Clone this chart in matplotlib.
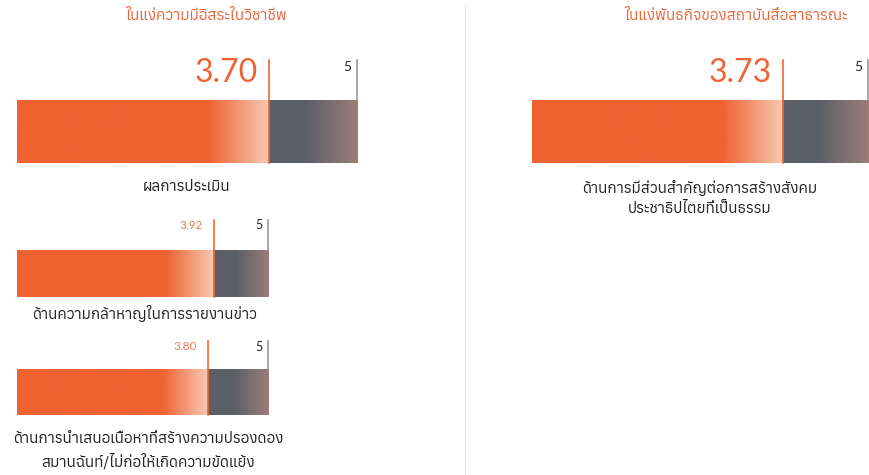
import numpy as np
import matplotlib
matplotlib.use("Agg")
import matplotlib.pyplot as plt
from matplotlib import font_manager, ft2font
from matplotlib.colors import LinearSegmentedColormap
from matplotlib.lines import Line2D

# data
titles = ["ในแง่ความมีอิสระในวิชาชีพ", "ในแง่พันธกิจของสถาบันสื่อสาธารณะ"]
left_labels = ["ผลการประเมิน",
               "ด้านความกล้าหาญในการรายงานข่าว",
               "ด้านการนำเสนอเนื้อหาที่สร้างความปรองดอง\nสมานฉันท์/ไม่ก่อให้เกิดความขัดแย้ง"]
left_scores = [3.70, 3.92, 3.80]
right_labels = ["ด้านการมีส่วนสำคัญต่อการสร้างสังคม\nประชาธิปไตยที่เป็นธรรม"]
right_scores = [3.73]
max_score = 5

ORANGE = "#ee6331"
PEACH = "#f8c8b2"
GRAY = "#5a5f67"
MAUVE = "#9b7c79"

# find a font that has thai glyphs
thai_fonts = []
for f in font_manager.fontManager.ttflist:
    try:
        if 0x0E01 in ft2font.FT2Font(f.fname).get_charmap():
            thai_fonts.append(f.name)
    except Exception:
        pass
fams = sorted(set(thai_fonts)) + ["DejaVu Sans"]
plt.rcParams['font.family'] = fams

orange_cmap = LinearSegmentedColormap.from_list("o", [(0, ORANGE), (0.76, ORANGE), (1, PEACH)])
gray_cmap = LinearSegmentedColormap.from_list("g", [(0, GRAY), (0.4, GRAY), (1, MAUVE)])
grad = np.linspace(0, 1, 256).reshape(1, -1)

fig = plt.figure(figsize=(8.7, 4.75), dpi=100)
W, H = 870, 475


def px_axes(x0, y0, x1, y1):
    return fig.add_axes([x0 / W, 1 - y1 / H, (x1 - x0) / W, (y1 - y0) / H])


def draw_bar(ax, score, big, line_top, val_y, five_y):
    ax.imshow(grad, cmap=orange_cmap, aspect="auto", extent=(0, score, 0, 1))
    ax.imshow(grad, cmap=gray_cmap, aspect="auto", extent=(score, max_score, 0, 1))
    ax.set_xlim(0, max_score)
    ax.set_ylim(0, 1)
    ax.axis("off")
    ax.plot([score, score], [0, line_top], color=ORANGE, lw=1.2, clip_on=False)
    ax.plot([max_score, max_score], [1, line_top], color="#999999", lw=1.2, clip_on=False)
    ax.annotate(f"{score:.2f}", xy=(score, val_y), xytext=(-8, 0), textcoords="offset points",
                ha="right", va="center", color=ORANGE if big else "#ef7a55",
                annotation_clip=False,
                fontsize=23 if big else 8.5, family=["Lato", "DejaVu Sans"])
    ax.annotate(str(max_score), xy=(max_score, five_y), xytext=(-4, 0), textcoords="offset points",
                ha="right", va="center", color="#222222", annotation_clip=False,
                fontsize=10 if big else 9, family=["Lato", "DejaVu Sans"])


# left panel
ax1 = px_axes(17, 100, 357, 163)
draw_bar(ax1, left_scores[0], True, 1.63, 1.43, 1.52)
ax2 = px_axes(17, 250, 268, 297)
draw_bar(ax2, left_scores[1], False, 1.64, 1.53, 1.53)
ax3 = px_axes(17, 369, 268, 415)
draw_bar(ax3, left_scores[2], False, 1.6, 1.48, 1.48)

# right panel
ax4 = px_axes(532, 100, 868, 163)
draw_bar(ax4, right_scores[0], True, 1.63, 1.43, 1.52)

fig.text(206 / W, 1 - 16 / H, titles[0], ha="center", va="center", color="#e8653c", fontsize=11)
fig.text(736 / W, 1 - 16 / H, titles[1], ha="center", va="center", color="#e8653c", fontsize=11)

fig.text(187 / W, 1 - 187 / H, left_labels[0], ha="center", va="center", color="#222222", fontsize=11)
fig.text(145 / W, 1 - 313 / H, left_labels[1], ha="center", va="center", color="#222222", fontsize=11)
fig.text(148 / W, 1 - 451 / H, left_labels[2], ha="center", va="center", color="#222222",
         fontsize=11, linespacing=1.5)
fig.text(700 / W, 1 - 198 / H, right_labels[0], ha="center", va="center", color="#222222",
         fontsize=11, linespacing=1.5)

fig.add_artist(Line2D([465 / W, 465 / W], [0, 1 - 5 / H], color="#e6e6e6", lw=1))

fig.savefig("out.png", dpi=100)
